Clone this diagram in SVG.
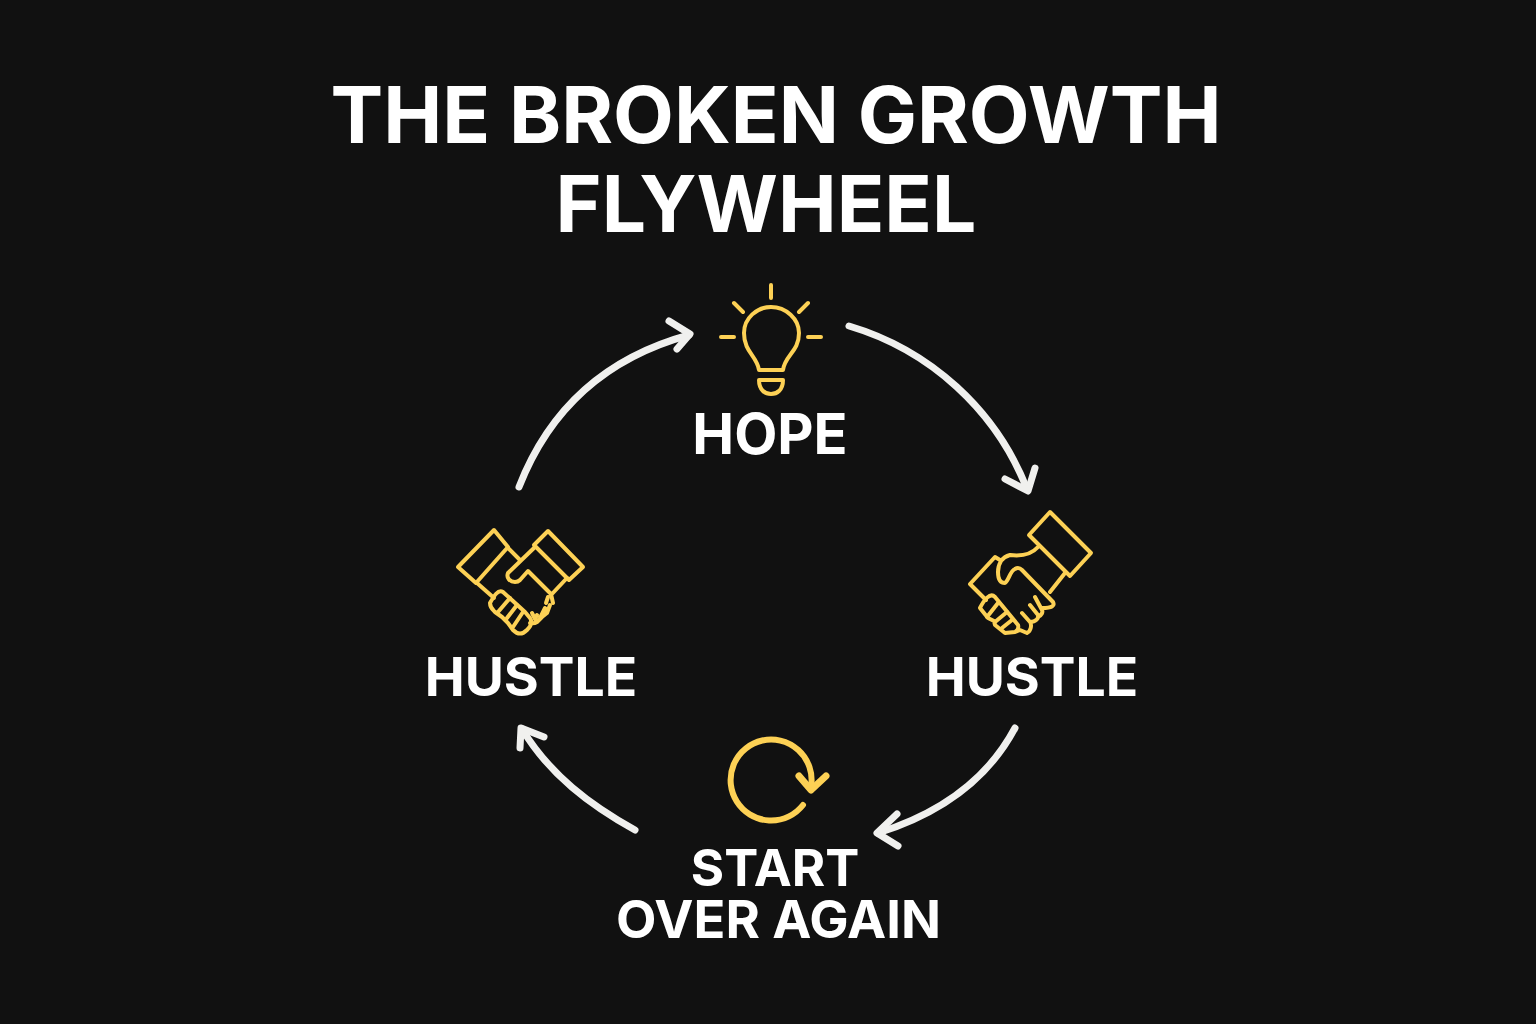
<svg xmlns="http://www.w3.org/2000/svg" width="1536" height="1024" viewBox="0 0 1536 1024">
<defs>
<style>
text{font-family:"Inter","Liberation Sans",sans-serif;font-weight:700;fill:#fff;text-anchor:middle}
.t{font-size:79px}
.l{font-size:53.500px}
.ic{fill:none;stroke:#fdd155;stroke-width:4;stroke-linecap:round;stroke-linejoin:round}
.c{fill:none;stroke:#f0f0ee;stroke-width:7;stroke-linecap:round;stroke-linejoin:round}
</style>
</defs>
<rect width="1536" height="1024" fill="#111111"/>
<g id="title"><text class="t" x="776" y="143">THE BROKEN GROWTH</text><text class="t" x="766" y="232" style="font-size:78.500px">FLYWHEEL</text></g>
<g id="connectors">
<path class="c" d="M519 487C549 410 605 358 689 335"/><path class="c" d="M669 321L690 334L677 349"/>
<path class="c" d="M849 326C930 350 996 410 1027 489"/><path class="c" d="M1005 479L1028 491L1035 468"/>
<path class="c" d="M1015 728C990 775 945 812 878 833"/><path class="c" d="M897 814L877 833L898 846"/>
<path class="c" d="M635 830C590 805 550 775 522 729"/><path class="c" d="M520 748L521 728L544 737"/>
</g>
<g id="node-hope">
<path class="ic" d="M771 285V298M734 303L743 312M808 303L799 312M721 337H734M808 337H821"/>
<path class="ic" d="M759 370C757 356 744 352 744 333C744 318 757 307 771 307C786 307 799 319 799 333C799 352 785 355 783 370Z"/>
<path class="ic" d="M759 380H783C783 390 777 394 771 394C765 394 759 390 759 380Z"/>
<text class="l" x="770" y="454" style="font-size:56px">HOPE</text>
</g>
<g id="node-hustle-right">
<path class="ic" d="M1050 512L1091 553L1070 576L1029 535Z"/>
<path class="ic" d="M1038 547C1030 556 1018 556 1010 555C1002 557 998 564 998 572C998 579 1000 583 1005 583C1009 580 1010 571 1015 569C1018 567 1020 568 1022 570L1053 602C1055 606 1052 608 1042 608"/>
<path class="ic" d="M1065 573L1050 592M1000 560L995 557L970 584L986 600"/>
<path class="ic" d="M995 597C990 592 984 600 980 608L988 618L994 621L995 625L1005 633L1015 632L1020 630L1027 633C1031 631 1032 625 1030 622L1022 613M1030 622C1036 622 1039 618 1038 615L1030 605M1038 617C1042 615 1043 612 1042 610L1035 597M995 597L1018 625C1019 628 1017 631 1015 632"/>
<path class="ic" d="M998 603L987 617M1007 612L995 622M1012 620L1002 628"/>
<text class="l" x="1032" y="696">HUSTLE</text>
</g>
<g id="node-hustle-left">
<path class="ic" d="M494 530L508 547L476 583L458 567Z"/>
<path class="ic" d="M548 531L583 567L569 580L534 545Z"/>
<path class="ic" d="M508 548L520 560M535 547L508 573C506 578 510 582 515 582C518 582 519 581 520 580L528 571L551 594L553 603M567 578L551 595"/>
<path class="ic" d="M477 583L494 598"/>
<path class="ic" d="M503 592C498 589 494 596 490 603C490 608 493 610 495 612L502 617L508 623L513 630C517 634 522 635 527 630C532 625 532 621 530 618L525 612Z"/>
<path class="ic" d="M510 598L498 612M517 605L507 618M523 612L513 627"/>
<path class="ic" d="M530 623C534 624 537 622 537 622L542 617L547 613L550 605M532 613L535 619L537 615M540 618L545 608M546 603L548 597"/>
<text class="l" x="531" y="696">HUSTLE</text>
</g>
<g id="node-start-over">
<path d="M803 805A40.500 40.500 0 1 1 811.300 785" fill="none" stroke="#fdd155" stroke-width="6" stroke-linecap="round"/>
<path d="M799 776L811 790L826 776" fill="none" stroke="#fdd155" stroke-width="7" stroke-linecap="round" stroke-linejoin="round"/>
<text class="l" x="775" y="886" style="font-size:51px">START</text><text class="l" x="778.500" y="938" style="font-size:52.500px">OVER AGAIN</text>
</g>
</svg>
